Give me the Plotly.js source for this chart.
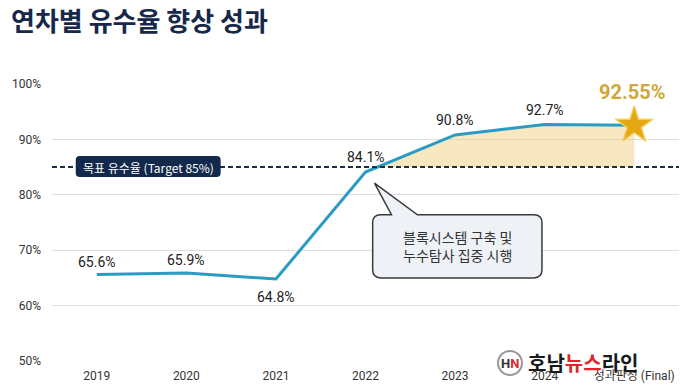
<!DOCTYPE html>
<html>
<head>
<meta charset="utf-8">
<script src="https://cdn.plot.ly/plotly-3.0.1.min.js"></script>
<style>
  html, body { margin: 0; padding: 0; background: #ffffff; }
  #chart { width: 680px; height: 387px; }
</style>
</head>
<body>
<div id="chart"></div>
<script>
// ---- data ----
const categories = ['2019', '2020', '2021', '2022', '2023', '2024', '성과판정 (Final)'];
const rates = [65.6, 65.9, 64.8, 84.1, 90.8, 92.7, 92.55];
const targetRate = 85;
const yTicks = [50, 60, 70, 80, 90, 100];
const yTickText = ['50%', '60%', '70%', '80%', '90%', '100%'];
const titleText = '연차별 유수율 향상 성과';
const targetLabel = '목표 유수율 (Target 85%)';
const calloutText = '블록시스템 구축 및<br>누수탐사 집중 시행';

// ---- derived ----
const xs = categories.map((_, i) => i);
const finalIdx = categories.length - 1;

// where the line first rises above the target (for shading)
let crossX = null, crossI = null;
for (let i = 0; i < rates.length - 1; i++) {
  if (rates[i] < targetRate && rates[i + 1] >= targetRate) {
    crossX = i + (targetRate - rates[i]) / (rates[i + 1] - rates[i]);
    crossI = i + 1;
  }
}
const fillX = [crossX], fillY = [targetRate];
for (let i = crossI; i < rates.length; i++) { fillX.push(i); fillY.push(rates[i]); }
fillX.push(finalIdx); fillY.push(targetRate);

const FONT = 'Roboto, "Noto Sans CJK KR", sans-serif';
const KFONT = '"Noto Sans CJK KR", Roboto, sans-serif';

const traces = [
  {
    x: fillX, y: fillY, type: 'scatter', mode: 'lines',
    fill: 'toself', fillcolor: 'rgba(240,205,120,0.45)',
    line: { width: 0 }, hoverinfo: 'skip', showlegend: false
  },
  {
    x: xs, y: rates, type: 'scatter', mode: 'lines',
    line: { color: '#2a9cc4', width: 3 },
    showlegend: false, cliponaxis: false
  },
  {
    x: [finalIdx], y: [rates[finalIdx]], type: 'scatter', mode: 'markers',
    marker: { symbol: 'star', size: 28, color: '#e3a812',
              line: { color: 'rgba(245,205,90,0.9)', width: 1.5 } },
    showlegend: false, cliponaxis: false
  }
];

// value labels
const shifts = [13, 13, -18, 15, 15, 14];
const annotations = [];
for (let i = 0; i < finalIdx; i++) {
  annotations.push({
    x: xs[i], y: rates[i], xref: 'x', yref: 'y',
    text: rates[i].toFixed(1) + '%', showarrow: false,
    yshift: shifts[i],
    font: { family: FONT, size: 14, color: '#222' }
  });
}
annotations.push({
  x: xs[finalIdx], y: rates[finalIdx], xref: 'x', yref: 'y',
  text: '<b>' + rates[finalIdx].toFixed(2) + '%</b>', showarrow: false,
  yshift: 33, xshift: -2, bgcolor: '#ffffff', borderpad: 1,
  font: { family: FONT, size: 20, color: '#cfa73a' }
});
// target label
annotations.push({
  x: 0.575, y: targetRate, xref: 'x', yref: 'y',
  text: targetLabel, showarrow: false,
  font: { family: KFONT, size: 12, color: '#ffffff' }
});
// callout text
annotations.push({
  x: 4.025, y: 70.7, xref: 'x', yref: 'y',
  text: calloutText, showarrow: false, align: 'center',
  font: { family: KFONT, size: 14, color: '#333' }
});

// watermark (paper coords are relative to the plot area: x 52..679, y 84..361 px)
const px = v => (v - 52) / 627;
const py = v => (361 - v) / 277;
annotations.push({
  x: px(510), y: py(363), xref: 'paper', yref: 'paper',
  xanchor: 'center', yanchor: 'middle', showarrow: false,
  text: '<b><span style="color:#333">H</span><span style="color:#d92b2b">N</span></b>',
  font: { family: FONT, size: 13 }
});
annotations.push({
  x: px(526), y: py(362), xref: 'paper', yref: 'paper',
  xanchor: 'left', yanchor: 'middle', showarrow: false,
  text: '<b>호남<span style="color:#e0262a">뉴스</span>라인</b>',
  font: { family: KFONT, size: 20, color: '#1a1a1a' }
});

// rounded path helper (data coords)
function roundRect(x0, x1, yb, yt, rx, ry, tail) {
  let p = `M${x0 + rx},${yt} `;
  if (tail) p += `L${tail[0]},${yt} L${tail[2]},${tail[3]} L${tail[1]},${yt} `;
  p += `L${x1 - rx},${yt} Q${x1},${yt} ${x1},${yt - ry} `;
  p += `L${x1},${yb + ry} Q${x1},${yb} ${x1 - rx},${yb} `;
  p += `L${x0 + rx},${yb} Q${x0},${yb} ${x0},${yb + ry} `;
  p += `L${x0},${yt - ry} Q${x0},${yt} ${x0 + rx},${yt} Z`;
  return p;
}

const shapes = [
  {
    type: 'line', xref: 'paper', yref: 'y', x0: 0, x1: 1, y0: targetRate, y1: targetRate,
    line: { color: '#1e2b45', width: 2, dash: '5px,3px' }, layer: 'above'
  },
  {
    type: 'path', xref: 'x', yref: 'y', layer: 'above',
    path: roundRect(-0.235, 1.383, 83.2, 87.0, 0.045, 0.72),
    fillcolor: '#13294b', line: { width: 0 }
  },
  {
    type: 'path', xref: 'x', yref: 'y', layer: 'above',
    path: roundRect(3.08, 4.97, 65.0, 76.4, 0.09, 1.45, [3.29, 3.58, 3.10, 82.1]),
    fillcolor: '#eef1f6', line: { color: '#3a3a3a', width: 1.5 }
  },
  // watermark logo ring
  {
    type: 'circle', xref: 'paper', yref: 'paper', layer: 'above',
    x0: px(498), x1: px(522), y0: py(375), y1: py(351),
    fillcolor: '#ffffff', line: { color: '#999', width: 2 }
  }
];

const layout = {
  width: 680, height: 387,
  margin: { l: 52, r: 1, t: 84, b: 26 },
  paper_bgcolor: '#ffffff', plot_bgcolor: '#ffffff',
  title: {
    text: '<b>' + titleText + '</b>',
    font: { family: KFONT, size: 26, color: '#17284a' },
    x: 11 / 680, xref: 'container', xanchor: 'left',
    y: 1 - 22 / 387, yref: 'container', yanchor: 'middle'
  },
  xaxis: {
    range: [-0.5, 6.5], tickvals: xs, ticktext: categories,
    showgrid: false, zeroline: false, showline: false, ticks: '',
    tickfont: { family: FONT, size: 12, color: '#333' },
    ticklabelstandoff: 6, fixedrange: true
  },
  yaxis: {
    range: [50, 100], tickvals: yTicks, ticktext: yTickText,
    showgrid: true, gridcolor: '#dedede', gridwidth: 1,
    zeroline: false, showline: false, ticks: '',
    tickfont: { family: FONT, size: 12, color: '#333' },
    ticklabelstandoff: 10, fixedrange: true
  },
  showlegend: false,
  shapes: shapes,
  annotations: annotations
};

Plotly.newPlot('chart', traces, layout, { displayModeBar: false, staticPlot: true });
</script>
</body>
</html>
